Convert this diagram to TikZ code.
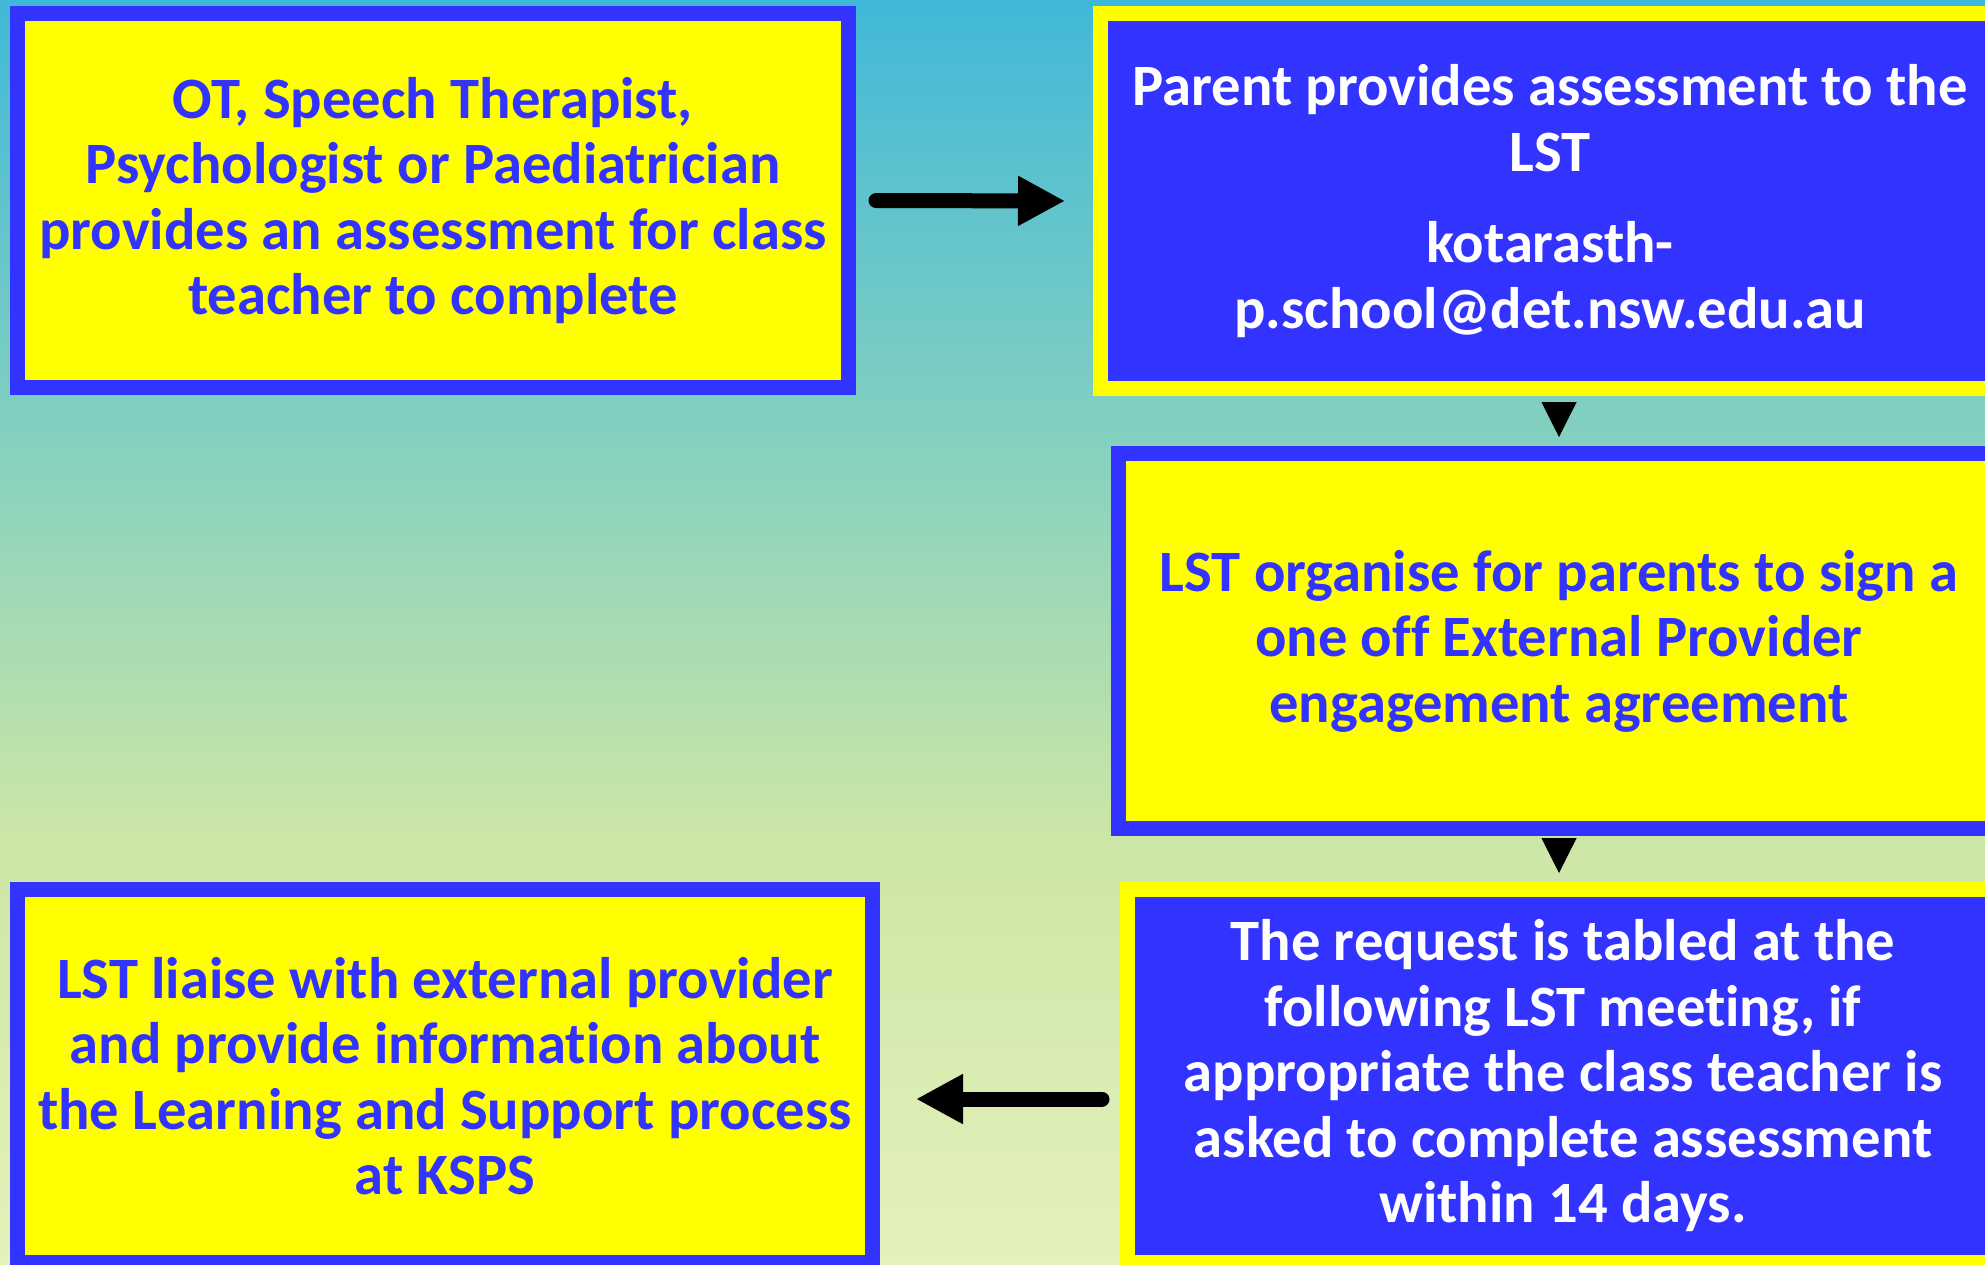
\documentclass[tikz,border=0pt]{standalone}
\usepackage{fontspec}
\setmainfont{Carlito}[Ligatures={NoCommon}]
\usepackage{xcolor}
\usetikzlibrary{arrows.meta, calc, positioning, shadows}

\definecolor{boxblue}{RGB}{51,51,255}
\definecolor{boxyellow}{RGB}{255,255,0}
\definecolor{bgtop}{RGB}{64,184,216}
\definecolor{bgmid}{RGB}{134,209,191}
\definecolor{bglow}{RGB}{203,230,166}
\definecolor{bgbot}{RGB}{228,241,186}

\begin{document}
\begin{tikzpicture}[
    x=0.5pt, y=-0.5pt,
    font=\fontsize{29.3pt}{32.75pt}\selectfont\bfseries,
    yellowbox/.style={rectangle, draw=boxblue, fill=boxyellow, text=boxblue, line width=7.5pt, align=center, inner sep=0pt},
    bluebox/.style={rectangle, draw=boxyellow, fill=boxblue, text=white, line width=7.5pt, align=center, inner sep=0pt},
    bigarrow/.style={draw=black, line width=7.5pt, line cap=round, -{Triangle[length=23.5pt, width=23.5pt]}},
    downtip/.style={draw=black, line width=0.5pt, -{Triangle[length=17.5pt, width=17.5pt]}, shorten <=3pt, shorten >=4.5pt}
]

    % background fade
    \clip (0,0) rectangle (1985,1264);
    \shade [top color=bgtop, bottom color=bgmid] (0,0) rectangle (1985,451);
    \shade [top color=bgmid, bottom color=bglow] (0,450) rectangle (1985,831);
    \shade [top color=bglow, bottom color=bgbot] (0,830) rectangle (1985,1264);

    % Top row
    \node [yellowbox, minimum width=415.5pt, minimum height=187pt] (ot) at (433,200.5) {
        OT, Speech Therapist,\\Psychologist or Paediatrician\\provides an assessment for class\\teacher to complete
    };
    \node [bluebox, minimum width=449.5pt, minimum height=187.5pt] (parent) at (1550,201) {
        Parent provides assessment to the\\LST\\[13pt]
        kotarasth-\\p.school@det.nsw.edu.au
    };

    % Right column
    \node [yellowbox, minimum width=440.5pt, minimum height=187.5pt] (organise) at (1559,641) {
        LST organise for parents to sign a\\one off External Provider\\engagement agreement
    };
    \node [bluebox, minimum width=435.5pt, minimum height=186.5pt] (request) at (1563,1076) {
        The request is tabled at the\\following LST meeting, if\\appropriate the class teacher is\\asked to complete assessment\\within 14 days.
    };

    % Bottom left
    \node [yellowbox, minimum width=427.5pt, minimum height=186.5pt] (liaise) at (445,1076) {
        LST liaise with external provider\\and provide information about\\the Learning and Support process\\at KSPS
    };

    \draw [bigarrow, shorten <=10pt, shorten >=14pt] (ot.east) -- (parent.west);
    \draw [downtip] (parent.south -| organise.north) -- (organise.north);
    \draw [downtip] (organise.south) -- (organise.south |- request.north);
    \draw [bigarrow, shorten <=9pt, shorten >=18pt] ([yshift=-11.5pt]request.west) -- ([yshift=-11.5pt]liaise.east);

\end{tikzpicture}
\end{document}
